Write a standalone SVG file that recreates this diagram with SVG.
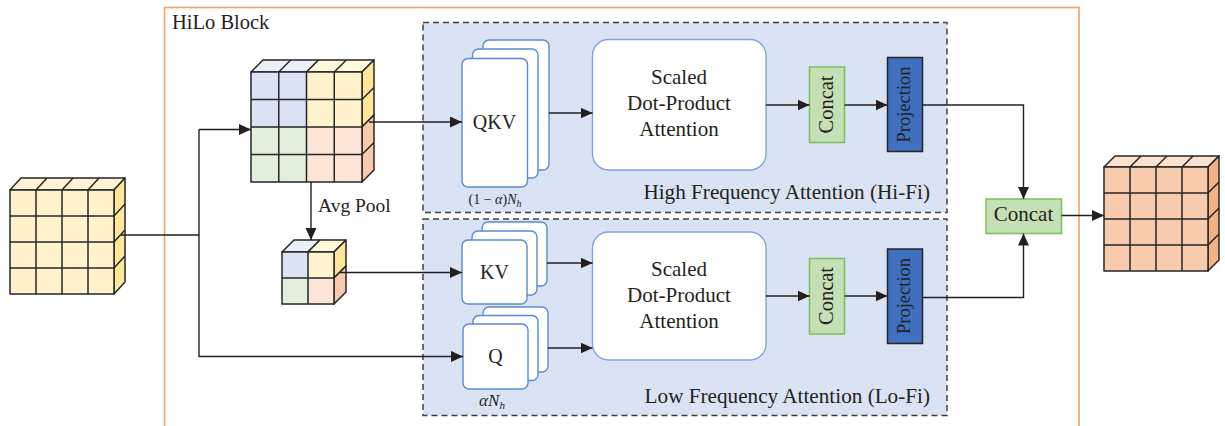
<svg xmlns="http://www.w3.org/2000/svg" width="1225" height="426" viewBox="0 0 1225 426">
<style>
.t{font-family:"Liberation Serif","Times New Roman",serif;fill:#231f20}
.cell{stroke:#262626;stroke-width:1.5;stroke-linejoin:round}
.ln{fill:none;stroke:#262626;stroke-width:1.5}
.con{fill:none;stroke:#231f20;stroke-width:1.4}
.stk{fill:#ffffff;stroke:#5b8bd0;stroke-width:1.4}
.sdp{fill:#ffffff;stroke:#7fa3db;stroke-width:1.4}
.region{fill:#dae3f3;stroke:#404040;stroke-width:1.5;stroke-dasharray:6 4}
.cc{fill:#c5e0b4;stroke:#7cc05a;stroke-width:1.5}
.pj{fill:#3f6fbf;stroke:#262626;stroke-width:1.5}
</style>
<defs>
<marker id="arr" markerUnits="userSpaceOnUse" markerWidth="13" markerHeight="12" refX="12" refY="5.5" orient="auto">
<path d="M0,0 L12,5.5 L0,11 z" fill="#231f20"/>
</marker>
</defs>
<rect width="1225" height="426" fill="#ffffff"/>

<g id="hilo-block">
<rect x="164.5" y="7.5" width="914.5" height="430" fill="none" stroke="#f4a261" stroke-width="1.6"/>
<text class="t" x="172" y="29" font-size="20.5">HiLo Block</text>
</g>

<g id="hifi-region">
<rect class="region" x="423" y="22.5" width="524" height="190"/>
<text class="t" x="930" y="199" font-size="21.2" text-anchor="end">High Frequency Attention (Hi-Fi)</text>
</g>
<g id="lofi-region">
<rect class="region" x="423" y="219" width="524" height="196.5"/>
<text class="t" x="930" y="403" font-size="21.2" text-anchor="end">Low Frequency Attention (Lo-Fi)</text>
</g>

<g id="input-cube">
<polygon class="cell" points="10,190 114,190 125,178 21,178" fill="#fff5d6"/>
<polygon class="cell" points="114,190 125,178 125,282 114,294" fill="#ffe699"/>
<rect class="cell" x="10" y="190" width="104" height="104" fill="#fff2cc"/>
<path class="ln" d="M36,190 L47,178 M62,190 L73,178 M88,190 L99,178 M114,216 L125,204 M114,242 L125,230 M114,268 L125,256 M36,190 V294 M62,190 V294 M88,190 V294 M10,216 H114 M10,242 H114 M10,268 H114"/>
</g>

<g id="hifi-cube">
<polygon class="cell" points="251,72 306.5,72 318.5,60 263,60" fill="#eaf0f9"/>
<polygon class="cell" points="306.5,72 362,72 374,60 318.5,60" fill="#fff9dd"/>
<polygon class="cell" points="362,72 374,60 374,115 362,127" fill="#ffe699"/>
<polygon class="cell" points="362,127 374,115 374,170 362,182" fill="#f8cbad"/>
<rect x="251" y="72" width="55.5" height="55" fill="#dae3f3"/>
<rect x="306.5" y="72" width="55.5" height="55" fill="#fff2cc"/>
<rect x="251" y="127" width="55.5" height="55" fill="#e2efda"/>
<rect x="306.5" y="127" width="55.5" height="55" fill="#fce4d6"/>
<rect class="ln" x="251" y="72" width="111" height="110"/>
<path class="ln" d="M278.75,72 L290.75,60 M334.25,72 L346.25,60 M362,99.5 L374,87.5 M362,154.5 L374,142.5 M278.75,72 V182 M306.5,72 V182 M334.25,72 V182 M251,99.5 H362 M251,127 H362 M251,154.5 H362"/>
</g>

<g id="pooled-cube">
<polygon class="cell" points="282,252 308,252 320,240 294,240" fill="#eaf0f9"/>
<polygon class="cell" points="308,252 334,252 346,240 320,240" fill="#fff9dd"/>
<polygon class="cell" points="334,252 346,240 346,266 334,278" fill="#ffe699"/>
<polygon class="cell" points="334,278 346,266 346,292 334,304" fill="#f8cbad"/>
<rect x="282" y="252" width="26" height="26" fill="#dae3f3"/>
<rect x="308" y="252" width="26" height="26" fill="#fff2cc"/>
<rect x="282" y="278" width="26" height="26" fill="#e2efda"/>
<rect x="308" y="278" width="26" height="26" fill="#fce4d6"/>
<rect class="ln" x="282" y="252" width="52" height="52"/>
<path class="ln" d="M308,252 V304 M282,278 H334"/>
<text class="t" x="318" y="212" font-size="19.5">Avg Pool</text>
</g>

<g id="qkv">
<rect class="stk" x="483" y="40" width="66" height="130" rx="6"/>
<rect class="stk" x="472.5" y="49" width="65.5" height="129" rx="6"/>
<rect class="stk" x="462" y="58.5" width="65.5" height="128.5" rx="6"/>
<text class="t" x="494.5" y="129" font-size="20" text-anchor="middle">QKV</text>
<text class="t" x="495" y="204" font-size="14" text-anchor="middle">(1 − <tspan font-style="italic">α</tspan>)<tspan font-style="italic">N</tspan><tspan font-style="italic" font-size="10" dy="3">h</tspan></text>
</g>

<g id="kv">
<rect class="stk" x="482" y="222" width="65" height="64" rx="6"/>
<rect class="stk" x="472" y="231" width="65" height="64" rx="6"/>
<rect class="stk" x="462" y="240" width="65" height="64" rx="6"/>
<text class="t" x="494.5" y="278.5" font-size="20" text-anchor="middle">KV</text>
</g>

<g id="q">
<rect class="stk" x="483" y="307" width="65" height="65" rx="6"/>
<rect class="stk" x="473" y="315.5" width="65" height="65" rx="6"/>
<rect class="stk" x="463" y="324" width="65" height="65" rx="6"/>
<text class="t" x="495.5" y="363" font-size="20" text-anchor="middle">Q</text>
<text class="t" x="492" y="406" font-size="17" text-anchor="middle"><tspan font-style="italic">αN</tspan><tspan font-style="italic" font-size="11" dy="3">h</tspan></text>
</g>

<g id="sdp-hifi">
<rect class="sdp" x="592.5" y="39.5" width="173.5" height="130.5" rx="16"/>
<text class="t" font-size="21" text-anchor="middle"><tspan x="679" y="84">Scaled</tspan><tspan x="679" y="110">Dot-Product</tspan><tspan x="679" y="135.5">Attention</tspan></text>
</g>
<g id="sdp-lofi">
<rect class="sdp" x="592.5" y="232" width="173.5" height="128" rx="16"/>
<text class="t" font-size="21" text-anchor="middle"><tspan x="679" y="276">Scaled</tspan><tspan x="679" y="302">Dot-Product</tspan><tspan x="679" y="327.5">Attention</tspan></text>
</g>

<g id="concat-hifi">
<rect class="cc" x="809.5" y="67" width="35" height="75.5"/>
<text class="t" transform="translate(833,104.5) rotate(-90)" font-size="20.5" text-anchor="middle">Concat</text>
</g>
<g id="projection-hifi">
<rect class="pj" x="887.5" y="57.5" width="35" height="94"/>
<text class="t" transform="translate(910,104.5) rotate(-90)" font-size="18.5" text-anchor="middle">Projection</text>
</g>
<g id="concat-lofi">
<rect class="cc" x="809.5" y="258.5" width="35" height="75.5"/>
<text class="t" transform="translate(833,296) rotate(-90)" font-size="20.5" text-anchor="middle">Concat</text>
</g>
<g id="projection-lofi">
<rect class="pj" x="887.5" y="249" width="35" height="94.5"/>
<text class="t" transform="translate(910,296) rotate(-90)" font-size="18.5" text-anchor="middle">Projection</text>
</g>

<g id="concat-out">
<rect class="cc" x="986" y="199" width="75.5" height="34.5"/>
<text class="t" x="1023.5" y="221" font-size="21" text-anchor="middle">Concat</text>
</g>

<g id="output-cube">
<polygon class="cell" points="1104,167 1208,167 1219,156 1115,156" fill="#fbe2d0"/>
<polygon class="cell" points="1208,167 1219,156 1219,260 1208,271" fill="#f4b183"/>
<rect class="cell" x="1104" y="167" width="104" height="104" fill="#f8cbad"/>
<path class="ln" d="M1130,167 L1141,156 M1156,167 L1167,156 M1182,167 L1193,156 M1208,193 L1219,182 M1208,219 L1219,208 M1208,245 L1219,234 M1130,167 V271 M1156,167 V271 M1182,167 V271 M1104,193 H1208 M1104,219 H1208 M1104,245 H1208"/>
</g>

<g id="connectors">
<path class="con" d="M121,235 H199"/>
<path class="con" d="M199,129.5 V357"/>
<path class="con" d="M199,129.5 H251" marker-end="url(#arr)"/>
<path class="con" d="M199,356.5 H463" marker-end="url(#arr)"/>
<path class="con" d="M369,122 H462" marker-end="url(#arr)"/>
<path class="con" d="M311,182 V240" marker-end="url(#arr)"/>
<path class="con" d="M340,272.5 H462" marker-end="url(#arr)"/>
<path class="con" d="M549,113 H592.5" marker-end="url(#arr)"/>
<path class="con" d="M547,263 H592.5" marker-end="url(#arr)"/>
<path class="con" d="M548,348 H592.5" marker-end="url(#arr)"/>
<path class="con" d="M766,105 H809.5" marker-end="url(#arr)"/>
<path class="con" d="M844.5,105 H887.5" marker-end="url(#arr)"/>
<path class="con" d="M922.5,105 H1023.5 V199" marker-end="url(#arr)"/>
<path class="con" d="M766,296 H809.5" marker-end="url(#arr)"/>
<path class="con" d="M844.5,296 H887.5" marker-end="url(#arr)"/>
<path class="con" d="M922.5,297.5 H1023.5 V233.5" marker-end="url(#arr)"/>
<path class="con" d="M1061.5,215.5 H1104" marker-end="url(#arr)"/>
</g>
</svg>
